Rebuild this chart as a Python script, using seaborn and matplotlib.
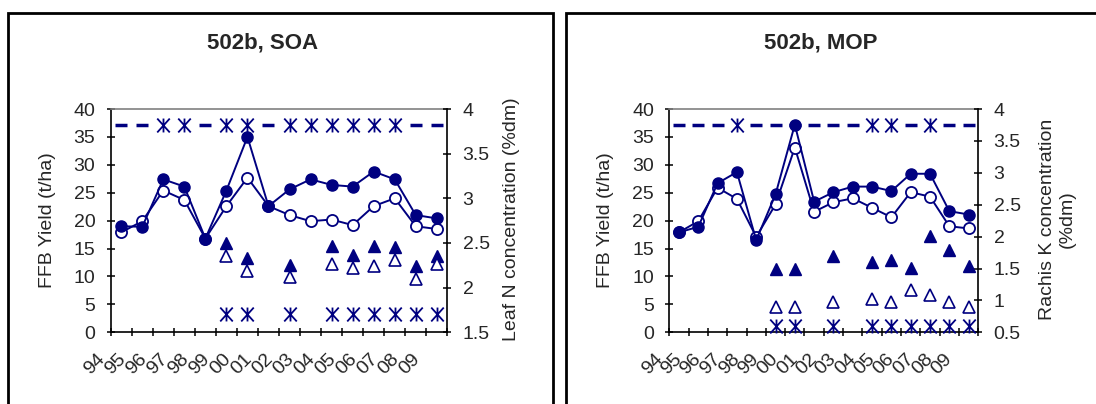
import numpy as np
import matplotlib
matplotlib.use("Agg")
import matplotlib.pyplot as plt
import matplotlib.transforms as mtransforms
from matplotlib.path import Path
from matplotlib.patches import Rectangle
from matplotlib.ticker import FixedLocator, NullFormatter, FixedFormatter
import seaborn as sns

nan = np.nan
years = ["94", "95", "96", "97", "98", "99", "00", "01",
         "02", "03", "04", "05", "06", "07", "08", "09"]

# ---- 502b, SOA ----
soa_yield_filled = [19.0, 18.9, 27.4, 26.1, 16.8, 25.4, 35.0, 22.6,
                    25.6, 27.4, 26.4, 26.1, 28.8, 27.4, 21.0, 20.4]
soa_yield_open = [17.9, 19.9, 25.4, 23.7, 16.8, 22.6, 27.7, 22.6,
                  21.0, 19.9, 20.2, 19.2, 22.6, 24.0, 19.0, 18.5]
soa_leafn_filled = [nan, nan, nan, nan, nan, 2.50, 2.33, nan,
                    2.25, nan, 2.47, 2.37, 2.47, 2.45, 2.24, 2.35]
soa_leafn_open = [nan, nan, nan, nan, nan, 2.35, 2.19, nan,
                  2.12, nan, 2.26, 2.22, 2.24, 2.31, 2.10, 2.26]
soa_sig_yield = [0, 0, 1, 1, 0, 1, 1, 0, 1, 1, 1, 1, 1, 1, 0, 0]
soa_sig_nutrient = [0, 0, 0, 0, 0, 1, 1, 0, 1, 0, 1, 1, 1, 1, 1, 1]

# ---- 502b, MOP ----
mop_yield_filled = [17.9, 18.9, 26.7, 28.7, 16.5, 24.7, 37.2, 23.4,
                    25.1, 26.1, 26.1, 25.3, 28.4, 28.4, 21.7, 21.1]
mop_yield_open = [17.9, 19.9, 25.9, 23.9, 17.1, 22.9, 33.1, 21.6,
                  23.3, 24.0, 22.3, 20.6, 25.1, 24.3, 19.0, 18.6]
mop_rachisk_filled = [nan, nan, nan, nan, nan, 1.50, 1.49, nan,
                      1.69, nan, 1.60, 1.63, 1.51, 2.01, 1.79, 1.54]
mop_rachisk_open = [nan, nan, nan, nan, nan, 0.90, 0.90, nan,
                    0.98, nan, 1.02, 0.98, 1.16, 1.09, 0.97, 0.89]
mop_sig_yield = [0, 0, 0, 1, 0, 0, 0, 0, 0, 0, 1, 1, 0, 1, 0, 0]
mop_sig_nutrient = [0, 0, 0, 0, 0, 1, 1, 0, 1, 0, 1, 1, 1, 1, 1, 1]

sig_yield_level = 37.2
soa_sig_nutrient_level = 1.7
mop_sig_nutrient_level = 0.6

NAVY = "#000080"
STAR = Path([(0, -1), (0, 1), (-0.9, -1), (0.9, 1), (-0.9, 1), (0.9, -1)],
            [Path.MOVETO, Path.LINETO] * 3)

sns.set_theme(style="white")
plt.rcParams["font.family"] = ["Liberation Sans", "DejaVu Sans"]

fig = plt.figure(figsize=(10.96, 4.04), dpi=100)
W, H = 1096.0, 404.0


def fx(px):
    return px / W


def fy(py):
    return 1 - py / H


def panel(left_px, right_px, title, title_x, ylabel_x, y2label, y2label_x,
          yf, yo, nf, no, sig_y, sig_n, sig_n_level, y2lim, y2ticks):
    top_px, bot_px = 109.0, 332.3
    ax = fig.add_axes([fx(left_px), fy(bot_px), fx(right_px - left_px),
                       (bot_px - top_px) / H])
    ax2 = ax.twinx()
    x = np.arange(len(years))
    sy = np.array(sig_y, dtype=bool)
    sn = np.array(sig_n, dtype=bool)

    # yield significance row: dashes for n.s., asterisks for significant
    sns.lineplot(x=x[~sy], y=np.full((~sy).sum(), sig_yield_level), ax=ax,
                 color=NAVY, linestyle="none", marker="_", markersize=9,
                 markeredgewidth=2.5, markeredgecolor=NAVY, clip_on=False)
    sns.lineplot(x=x[sy], y=np.full(sy.sum(), sig_yield_level), ax=ax,
                 color=NAVY, linestyle="none", marker=STAR, markersize=10,
                 markeredgewidth=1.3, markeredgecolor=NAVY,
                 markerfacecolor="none", clip_on=False)

    # yields
    sns.lineplot(x=x, y=yo, ax=ax, color=NAVY, lw=1.4, marker="o",
                 markersize=8, markerfacecolor="white",
                 markeredgecolor=NAVY, markeredgewidth=1.3, clip_on=False)
    sns.lineplot(x=x, y=yf, ax=ax, color=NAVY, lw=1.4, marker="o",
                 markersize=8, markerfacecolor=NAVY,
                 markeredgecolor=NAVY, markeredgewidth=1.0, clip_on=False)

    # nutrient concentrations (right axis)
    sns.lineplot(x=x, y=nf, ax=ax2, color=NAVY, linestyle="none",
                 marker="^", markersize=9, markerfacecolor=NAVY,
                 markeredgecolor=NAVY, markeredgewidth=1.0)
    sns.lineplot(x=x, y=no, ax=ax2, color=NAVY, linestyle="none",
                 marker="^", markersize=9, markerfacecolor="white",
                 markeredgecolor=NAVY, markeredgewidth=1.2)
    sns.lineplot(x=x[sn], y=np.full(sn.sum(), sig_n_level), ax=ax2,
                 color=NAVY, linestyle="none", marker=STAR, markersize=10,
                 markeredgewidth=1.3, markeredgecolor=NAVY,
                 markerfacecolor="none", clip_on=False)

    ax.set_xlim(-0.5, len(years) - 0.5)
    ax.set_ylim(0, 40)
    ax.set_yticks(np.arange(0, 41, 5))
    ax2.set_ylim(*y2lim)
    ax2.set_yticks(y2ticks)
    ax2.set_yticklabels([f"{t:g}" for t in y2ticks])
    ax.set_xlabel("")
    ax.set_ylabel("")
    ax2.set_ylabel("")

    # x axis: tick marks at category boundaries, labels at centers
    ax.xaxis.set_major_locator(FixedLocator(np.arange(-0.5, len(years), 1.0)))
    ax.xaxis.set_major_formatter(NullFormatter())
    ax.xaxis.set_minor_locator(FixedLocator(x))
    ax.xaxis.set_minor_formatter(FixedFormatter(years))
    ax.tick_params(axis="x", which="major", direction="inout", length=6,
                   width=1.1, color="black", bottom=True)
    ax.tick_params(axis="x", which="minor", length=0, pad=13, labelsize=14,
                   bottom=True)
    offset = mtransforms.ScaledTranslation(-0.13, 0, fig.dpi_scale_trans)
    for lab in ax.xaxis.get_minorticklabels():
        lab.set_rotation(45)
        lab.set_ha("right")
        lab.set_va("top")
        lab.set_transform(lab.get_transform() + offset)

    ax.tick_params(axis="y", direction="inout", length=6, width=1.1,
                   color="black", left=True, labelsize=14, pad=8)
    ax2.tick_params(axis="y", direction="inout", length=6, width=1.1,
                    color="black", right=True, labelsize=14, pad=8)
    ax.grid(False)
    ax2.grid(False)

    for sp in ["left", "bottom"]:
        ax.spines[sp].set_color("black")
        ax.spines[sp].set_linewidth(1.2)
    ax.spines["right"].set_visible(False)
    ax.spines["top"].set_color("#808080")
    ax.spines["top"].set_linewidth(1.2)
    for sp in ["left", "bottom", "top"]:
        ax2.spines[sp].set_visible(False)
    ax2.spines["right"].set_color("black")
    ax2.spines["right"].set_linewidth(1.2)

    fig.text(fx(title_x), fy(43), title, ha="center", va="center",
             fontsize=16, fontweight="bold")
    fig.text(fx(ylabel_x), fy(220), "FFB Yield (t/ha)", rotation=90,
             ha="center", va="center", fontsize=14)
    fig.text(fx(y2label_x), fy(219), y2label, rotation=90, ha="center",
             va="center", fontsize=14, multialignment="center")
    return ax, ax2


# chart-area frames
fig.patches.append(Rectangle((fx(8), -0.1), fx(553 - 8), fy(13) + 0.1,
                             transform=fig.transFigure, fill=False,
                             edgecolor="black", linewidth=2.0, zorder=0))
fig.patches.append(Rectangle((fx(566), -0.1), fx(1100 - 566), fy(13) + 0.1,
                             transform=fig.transFigure, fill=False,
                             edgecolor="black", linewidth=2.0, zorder=0))

panel(110.7, 447.3, "502b, SOA", 263, 48, "Leaf N concentration (%dm)", 512,
      soa_yield_filled, soa_yield_open, soa_leafn_filled, soa_leafn_open,
      soa_sig_yield, soa_sig_nutrient, soa_sig_nutrient_level,
      (1.5, 4), [1.5, 2, 2.5, 3, 3.5, 4])
panel(669.3, 978.3, "502b, MOP", 821, 605, "Rachis K concentration\n(%dm)", 1057,
      mop_yield_filled, mop_yield_open, mop_rachisk_filled, mop_rachisk_open,
      mop_sig_yield, mop_sig_nutrient, mop_sig_nutrient_level,
      (0.5, 4), [0.5, 1, 1.5, 2, 2.5, 3, 3.5, 4])

fig.savefig("out.png", dpi=100)
